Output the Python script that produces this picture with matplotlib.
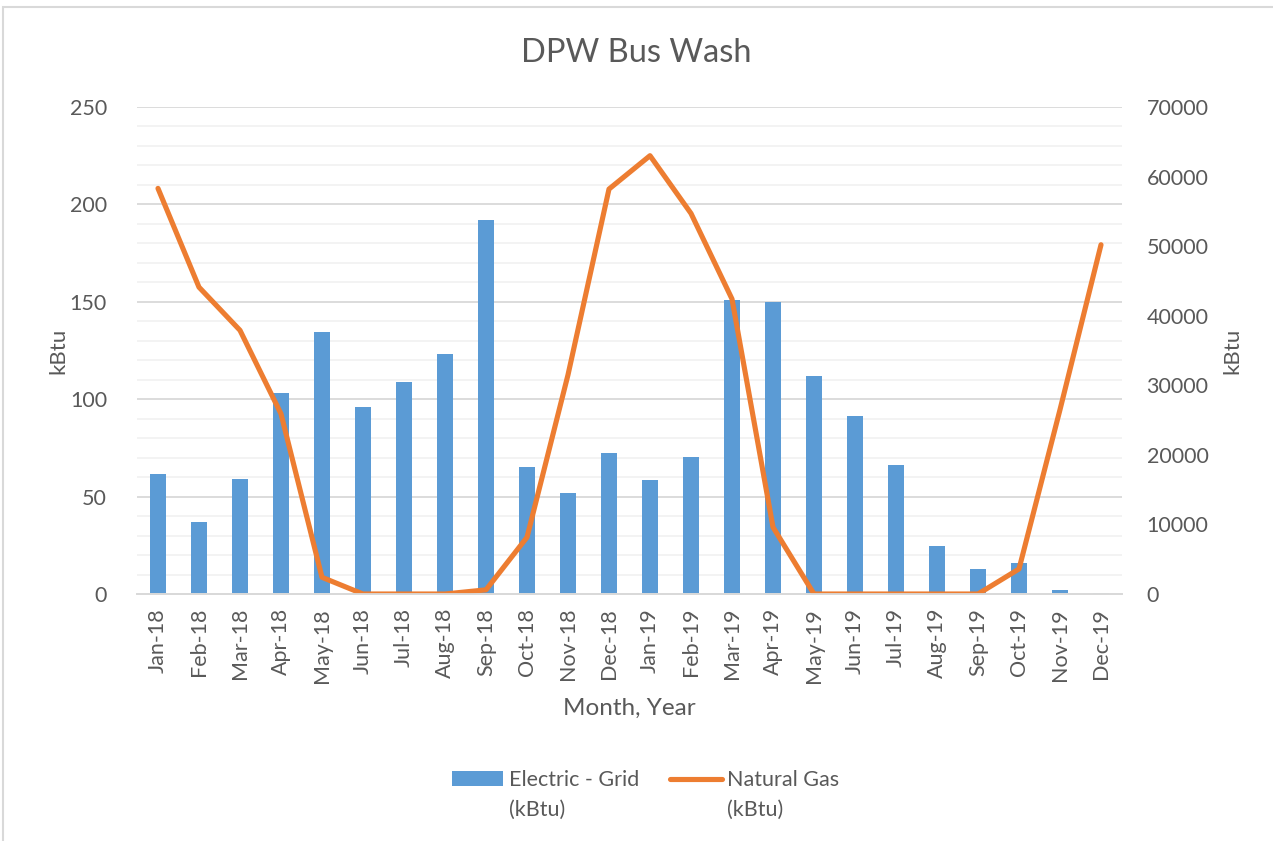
import matplotlib

matplotlib.use("Agg")
import matplotlib.pyplot as plt
from matplotlib.lines import Line2D
from matplotlib.patches import Patch, Rectangle
from matplotlib.ticker import MultipleLocator

plt.rcParams["font.family"] = ["Lato", "DejaVu Sans"]

months = ["Jan-18", "Feb-18", "Mar-18", "Apr-18", "May-18", "Jun-18",
          "Jul-18", "Aug-18", "Sep-18", "Oct-18", "Nov-18", "Dec-18",
          "Jan-19", "Feb-19", "Mar-19", "Apr-19", "May-19", "Jun-19",
          "Jul-19", "Aug-19", "Sep-19", "Oct-19", "Nov-19", "Dec-19"]

# monthly consumption, kBtu
electric = [61.6, 36.8, 59.0, 103.0, 134.3, 96.2, 109.0, 123.2, 192.0, 65.0,
            51.7, 72.2, 58.5, 70.2, 150.9, 149.7, 111.9, 91.4, 66.4, 24.6,
            12.8, 16.1, 1.9, 0.7]
natural_gas = [58300, 44100, 37900, 25900, 2400, 0, 0, 0, 600, 8150,
               31500, 58200, 63000, 54700, 42400, 9600, 0, 0, 0, 0,
               0, 3600, 26500, 50200]

series_names = ["Electric - Grid", "Natural Gas"]
unit_line = "(kBtu)"

BLUE = "#5B9BD5"
ORANGE = "#ED7D31"
TEXT = "#595959"

fig = plt.figure(figsize=(12.73, 8.41), dpi=100)
fig.patches.append(Rectangle((3 / 1273, -0.1), 1.2, 0.1 + (841 - 7) / 841,
                             transform=fig.transFigure, fill=False,
                             edgecolor="#D9D9D9", linewidth=1.5))

ax = fig.add_axes([0.108, 0.2937, 0.773, 0.5791])
ax2 = ax.twinx()

xs = list(range(len(months)))
ax.bar(xs, electric, width=0.4, color=BLUE, zorder=2)
ax2.plot(xs, natural_gas, color=ORANGE, linewidth=3.7,
         solid_capstyle="round", solid_joinstyle="round")

ax.set_xlim(-0.5, len(months) - 0.5)
ax.set_ylim(0, 250)
ax2.set_ylim(0, 70000)
ax.yaxis.set_major_locator(MultipleLocator(50))
ax.yaxis.set_minor_locator(MultipleLocator(10))
ax2.yaxis.set_major_locator(MultipleLocator(10000))

ax.grid(which="major", axis="y", color="#D9D9D9", linewidth=1.3, zorder=0)
ax.grid(which="minor", axis="y", color="#F2F2F2", linewidth=1.3, zorder=0)
ax.set_axisbelow(True)

for a in (ax, ax2):
    for side in ("top", "left", "right"):
        a.spines[side].set_visible(False)
    a.spines["bottom"].set_color("#D9D9D9")
    a.spines["bottom"].set_linewidth(1.3)
    a.tick_params(which="both", length=0, colors=TEXT, labelsize=15.5)

ax.set_xticks(xs)
ax.set_xticklabels(months, rotation=90)
ax.tick_params(axis="x", pad=10)
ax.tick_params(axis="y", pad=22)
ax2.tick_params(axis="y", pad=18)

ax.set_ylabel("kBtu", color=TEXT, fontsize=16, labelpad=1)
ax2.set_ylabel("kBtu", color=TEXT, fontsize=16, labelpad=10)
ax.set_xlabel("Month, Year", color=TEXT, fontsize=17.5, labelpad=11)

fig.text(0.5, 0.937, "DPW Bus Wash", ha="center", va="center",
         color=TEXT, fontsize=23.5)

handles = [Patch(facecolor=BLUE), Line2D([], [], color=ORANGE, linewidth=3.7,
                                        solid_capstyle="round")]
leg = fig.legend(handles, series_names, loc="center",
                 bbox_to_anchor=(0.507, 0.0725), ncol=2, frameon=False,
                 fontsize=15.5, labelcolor=TEXT, handlelength=2.4,
                 handleheight=0.65, handletextpad=0.25, columnspacing=1.45)

# second label line sits under each legend entry
fig.canvas.draw()
inv = fig.transFigure.inverted()
for txt in leg.get_texts():
    bb = txt.get_window_extent()
    x0, y0 = inv.transform((bb.x0, bb.y0))
    fig.text(x0, y0 - 0.012, unit_line, ha="left", va="top",
             color=TEXT, fontsize=15.5)

fig.savefig("out.png", dpi=100, facecolor="white")
